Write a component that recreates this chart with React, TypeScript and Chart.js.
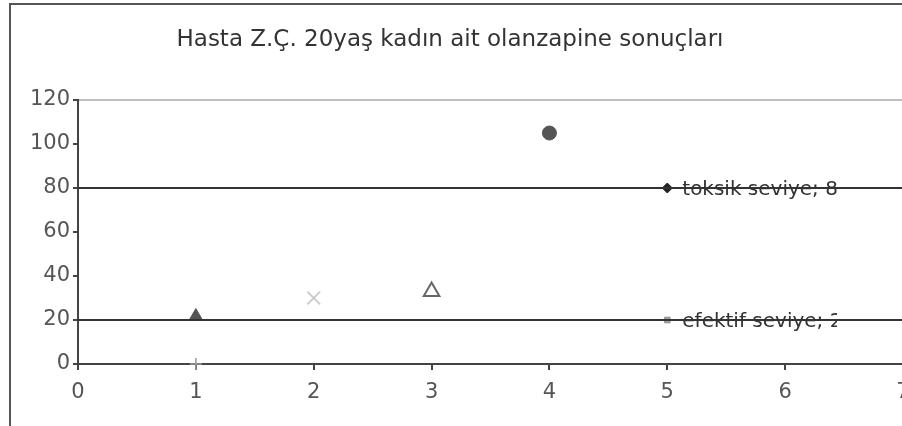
import React, { useEffect, useRef } from "react";
import { Chart, registerables } from "chart.js";

Chart.register(...registerables);

const titleText = "Hasta Z.Ç. 20yaş kadın ait olanzapine sonuçları";
const xTicks = [0, 1, 2, 3, 4, 5, 6, 7];
const yTicks = [0, 20, 40, 60, 80, 100, 120];

const plusPoint = [{ x: 1, y: 0 }];
const filledTriangle = [{ x: 1, y: 22 }];
const crossPoint = [{ x: 2, y: 30 }];
const openTriangle = [{ x: 3, y: 33 }];
const circlePoint = [{ x: 4, y: 105 }];
const toxicPoint = [{ x: 5, y: 80 }];
const effectivePoint = [{ x: 5, y: 20 }];
const toxicLine = [{ x: 0, y: 80 }, { x: 7, y: 80 }];
const effectiveLine = [{ x: 0, y: 20 }, { x: 7, y: 20 }];
const pointLabels = [
  { x: 5, y: 80, text: "toksik seviye; 80" },
  { x: 5, y: 20, text: "efektif seviye; 20" },
];

const FONT = "'DejaVu Sans', sans-serif";

const decorPlugin = {
  id: "decor",
  beforeDraw(chart: any) {
    const { ctx, chartArea } = chart;
    ctx.save();
    ctx.fillStyle = "#fff";
    ctx.fillRect(0, 0, chart.width, chart.height);
    // outer frame
    ctx.strokeStyle = "#555";
    ctx.lineWidth = 2;
    ctx.beginPath();
    ctx.moveTo(10, 426);
    ctx.lineTo(10, 4);
    ctx.lineTo(chart.width, 4);
    ctx.stroke();
    // plot top border
    ctx.strokeStyle = "#aaa";
    ctx.lineWidth = 1.5;
    ctx.beginPath();
    ctx.moveTo(chartArea.left, chartArea.top);
    ctx.lineTo(chartArea.right, chartArea.top);
    ctx.stroke();
    // title
    ctx.fillStyle = "#333";
    ctx.font = `23px ${FONT}`;
    ctx.textAlign = "center";
    ctx.textBaseline = "middle";
    ctx.fillText(titleText, 450, 40);
    ctx.restore();
  },
  afterDatasetsDraw(chart: any) {
    const { ctx } = chart;
    const xs = chart.scales.x;
    const ys = chart.scales.y;
    ctx.save();
    ctx.beginPath();
    ctx.rect(0, 0, 837, chart.height);
    ctx.clip();
    ctx.fillStyle = "#333";
    ctx.font = `20px ${FONT}`;
    ctx.textAlign = "left";
    ctx.textBaseline = "middle";
    pointLabels.forEach((l) => {
      ctx.fillText(l.text, xs.getPixelForValue(l.x) + 15, ys.getPixelForValue(l.y) + 2);
    });
    ctx.restore();
  },
};

export default function App() {
  const ref = useRef<HTMLCanvasElement>(null);
  useEffect(() => {
    if (!ref.current) return;
    const lineDs = (data: any) => ({
      type: "line" as const,
      data,
      borderColor: "#333",
      borderWidth: 2,
      pointRadius: 0,
      showLine: true,
      fill: false,
    });
    const chart = new Chart(ref.current, {
      type: "scatter",
      data: {
        datasets: [
          lineDs(toxicLine),
          lineDs(effectiveLine),
          { data: plusPoint, pointStyle: "cross", radius: 6, borderColor: "#999", borderWidth: 1.5, backgroundColor: "#999" },
          { data: filledTriangle, pointStyle: "triangle", radius: 7, borderColor: "#555", borderWidth: 1, backgroundColor: "#555" },
          { data: crossPoint, pointStyle: "crossRot", radius: 9, borderColor: "#ccc", borderWidth: 2, backgroundColor: "#ccc" },
          { data: openTriangle, pointStyle: "triangle", radius: 9, borderColor: "#666", borderWidth: 2, backgroundColor: "#fff" },
          { data: circlePoint, pointStyle: "circle", radius: 7, borderColor: "#555", borderWidth: 1, backgroundColor: "#555" },
          { data: toxicPoint, pointStyle: "rectRot", radius: 5, borderColor: "#222", borderWidth: 1, backgroundColor: "#222" },
          { data: effectivePoint, pointStyle: "rect", radius: 4, borderColor: "#999", borderWidth: 1, backgroundColor: "#999" },
        ] as any,
      },
      options: {
        responsive: false,
        animation: false,
        clip: false as any,
        layout: { padding: { top: 100, right: 22, left: 0, bottom: 0 } },
        plugins: { legend: { display: false }, title: { display: false }, tooltip: { enabled: false } },
        scales: {
          x: {
            type: "linear",
            min: 0,
            max: 7,
            afterFit: (s: any) => { s.height = 62; },
            afterBuildTicks: (s: any) => { s.ticks = xTicks.map((v) => ({ value: v })); },
            ticks: { color: "#555", font: { family: FONT, size: 21 }, padding: 10, maxRotation: 0 },
            grid: { drawOnChartArea: false, drawTicks: true, tickLength: 6, color: "#444", lineWidth: 2 },
            border: { display: true, color: "#444", width: 2 },
          },
          y: {
            type: "linear",
            min: 0,
            max: 120,
            afterFit: (s: any) => { s.width = 78; },
            afterBuildTicks: (s: any) => { s.ticks = yTicks.map((v) => ({ value: v })); },
            ticks: { color: "#555", font: { family: FONT, size: 21 }, padding: 3 },
            grid: { drawOnChartArea: false, drawTicks: true, tickLength: 5, color: "#444", lineWidth: 2 },
            border: { display: true, color: "#444", width: 2 },
          },
        },
      },
      plugins: [decorPlugin],
    });
    return () => chart.destroy();
  }, []);
  return (
    <div style={{ position: "absolute", left: 0, top: 0, width: 902, height: 426, overflow: "hidden", background: "#fff" }}>
      <canvas ref={ref} width={925} height={426} style={{ display: "block" }} />
    </div>
  );
}
